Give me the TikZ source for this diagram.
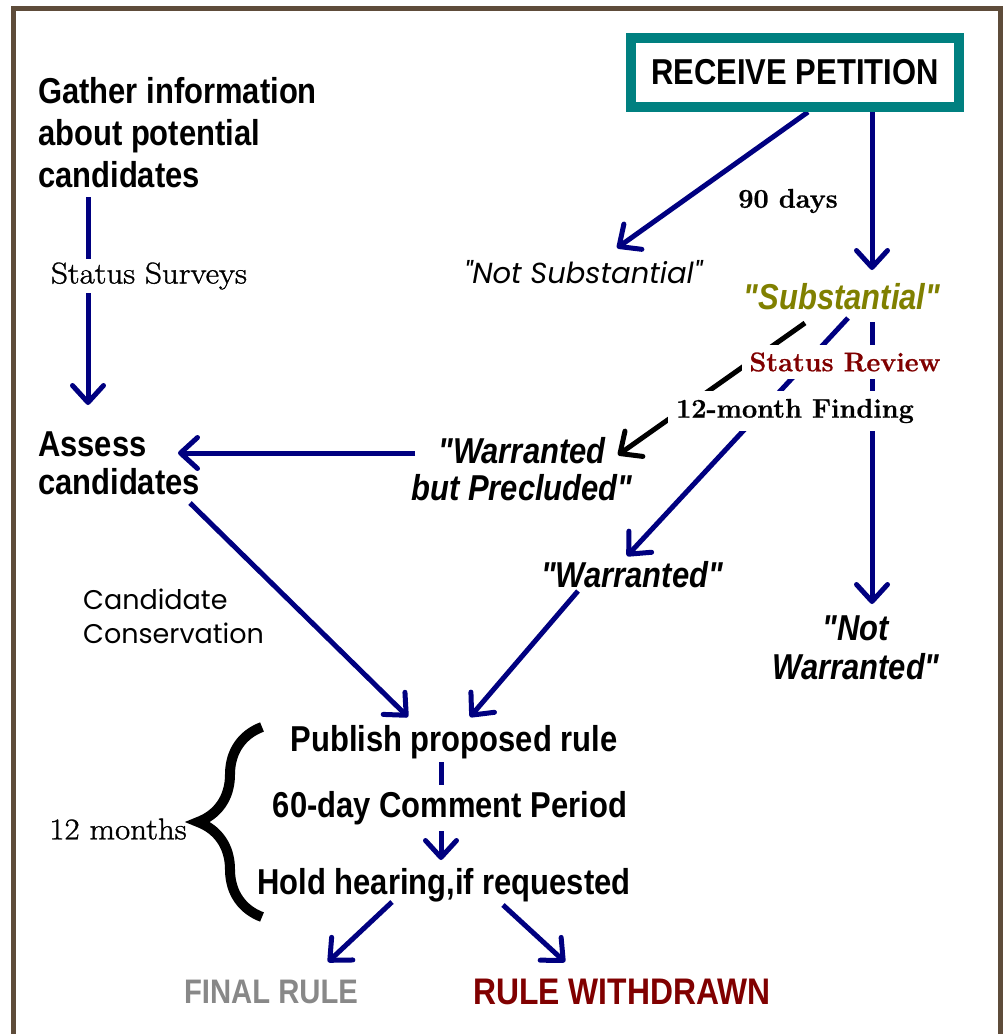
\documentclass[tikz,border=0pt]{standalone}
\usepackage{fontspec}
\usetikzlibrary{arrows.meta,calc,decorations.pathreplacing}
\newfontfamily\cond[FakeStretch=0.86]{Liberation Sans}
\newfontfamily\gothic{Poppins}
\newfontfamily\demi[FakeBold=1.2,FakeStretch=1.1]{Latin Modern Roman}
\newfontfamily\serbold[FakeBold=0.8]{Latin Modern Roman}
\definecolor{navyc}{RGB}{0,0,128}
\definecolor{tealc}{RGB}{0,128,128}
\definecolor{olivec}{RGB}{128,128,0}
\definecolor{maroonc}{RGB}{128,0,0}
\definecolor{grayc}{RGB}{136,136,136}
\definecolor{framec}{RGB}{94,76,58}
\pgfdeclarelayer{bg}
\pgfsetlayers{bg,main}
\begin{document}
\begin{tikzpicture}[x=1pt,y=-1pt,
  cbold/.style={font=\cond\bfseries\fontsize{36}{42}\selectfont, inner sep=0pt},
  cital/.style={font=\cond\bfseries\itshape\fontsize{36}{37}\selectfont, inner sep=0pt},
  serifn/.style={font=\demi\fontsize{30}{34}\selectfont, inner sep=0pt},
  serifb/.style={font=\serbold\bfseries\fontsize{27}{32}\selectfont, inner sep=0pt},
  goth/.style={font=\gothic\fontsize{27}{34}\selectfont, inner sep=0pt},
  conn/.style={draw=navyc, line width=5pt, -{Straight Barb[length=17pt,width=31pt,round]}},
  bconn/.style={conn, draw=black}]
\useasboundingbox (0,0) rectangle (1005,1034);
\begin{pgfonlayer}{bg}
\fill[white] (0,0) rectangle (1005,1034);
\end{pgfonlayer}
\draw[framec, line width=5pt] (13.5,1040) -- (13.5,8.5) -- (1000.5,8.5) -- (1000.5,1040);

\node[cbold, draw=tealc, line width=10pt, minimum width=328pt, minimum height=69pt, fill=white] (rp) at (795,72.5) {RECEIVE PETITION};
\node[cbold, align=left, anchor=west] (gather) at (38,133) {Gather information\\about potential\\candidates};
\node[serifn, fill=white, inner sep=3pt] (ss) at (149,276) {Status Surveys};
\node[cbold, align=left, anchor=west, font=\cond\bfseries\fontsize{36}{38}\selectfont] (assess) at (38,463) {Assess\\candidates};
\node[cital, align=center] (wbp) at (522,469) {"Warranted\\but Precluded"};
\node[inner sep=0pt, font=\gothic\itshape\fontsize{29}{34}\selectfont] (ns) at (583,272) {"Not Substantial"};
\node[serifb] (days) at (788,201) {90 days};
\node[cital, text=olivec] (subst) at (842,297) {"Substantial"};
\node[serifb, text=maroonc, fill=white, inner sep=7pt] (sr) at (845,362) {Status Review};
\node[serifb, fill=white, inner sep=8pt] (f12) at (795,411) {12-month Finding};
\node[cital] (warr) at (632,575) {"Warranted"};
\node[cital, align=center, font=\cond\bfseries\itshape\fontsize{36}{39}\selectfont] (nw) at (856,648) {"Not\\Warranted"};
\node[goth, align=left, anchor=west] (cc) at (83,616) {Candidate\\Conservation};
\node[cbold] (pub) at (454,742) {Publish proposed rule};
\node[cbold, fill=white, inner sep=6pt] (com) at (450,808) {60-day Comment Period};
\node[cbold] (hold) at (444,885) {Hold hearing,if requested};
\node[serifn] (months) at (118,829) {12 months};
\node[cbold, text=grayc, font=\cond\bfseries\fontsize{34}{40}\selectfont] (final) at (271,992) {FINAL RULE};
\node[cbold, text=maroonc, font=\cond\bfseries\fontsize{37}{40}\selectfont] (wd) at (622,992) {RULE WITHDRAWN};

\draw[line width=10pt, decorate, decoration={brace, amplitude=64pt}] (262,917) -- (262,727);

\begin{pgfonlayer}{bg}
\draw[conn] ($(gather.west)+(50,64)$) -- ($(assess.west)+(50,-58)$);
\draw[conn] ($(wbp.center)+(-107,-16)$) -- ($(assess.west)+(140,-10)$);
\draw[conn] ($(rp.center)+(13,39.5)$) -- ($(ns.center)+(34,-24)$);
\draw[conn] ($(rp.center)+(77,39.5)$) -- ($(subst.center)+(30,-27)$);
\draw[bconn] ($(subst.center)+(-37,26)$) -- ($(wbp.center)+(96,-14)$);
\draw[conn] ($(subst.center)+(6,21)$) -- ($(warr.center)+(-5,-19)$);
\draw[conn] ($(subst.center)+(30,25)$) -- ($(nw.center)+(16,-44)$);
\draw[conn] ($(assess.west)+(152,40)$) -- ($(pub.center)+(-46,-25)$);
\draw[conn] ($(warr.center)+(-54,16)$) -- ($(pub.center)+(16,-25)$);
\draw[conn] ($(pub.center)+(-13,20)$) -- ($(hold.center)+(-3,-25)$);
\draw[conn] ($(hold.center)+(-52,17)$) -- ($(final.center)+(57,-30)$);
\draw[conn] ($(hold.center)+(59,20)$) -- ($(wd.center)+(-57,-30)$);
\end{pgfonlayer}
\end{tikzpicture}
\end{document}
